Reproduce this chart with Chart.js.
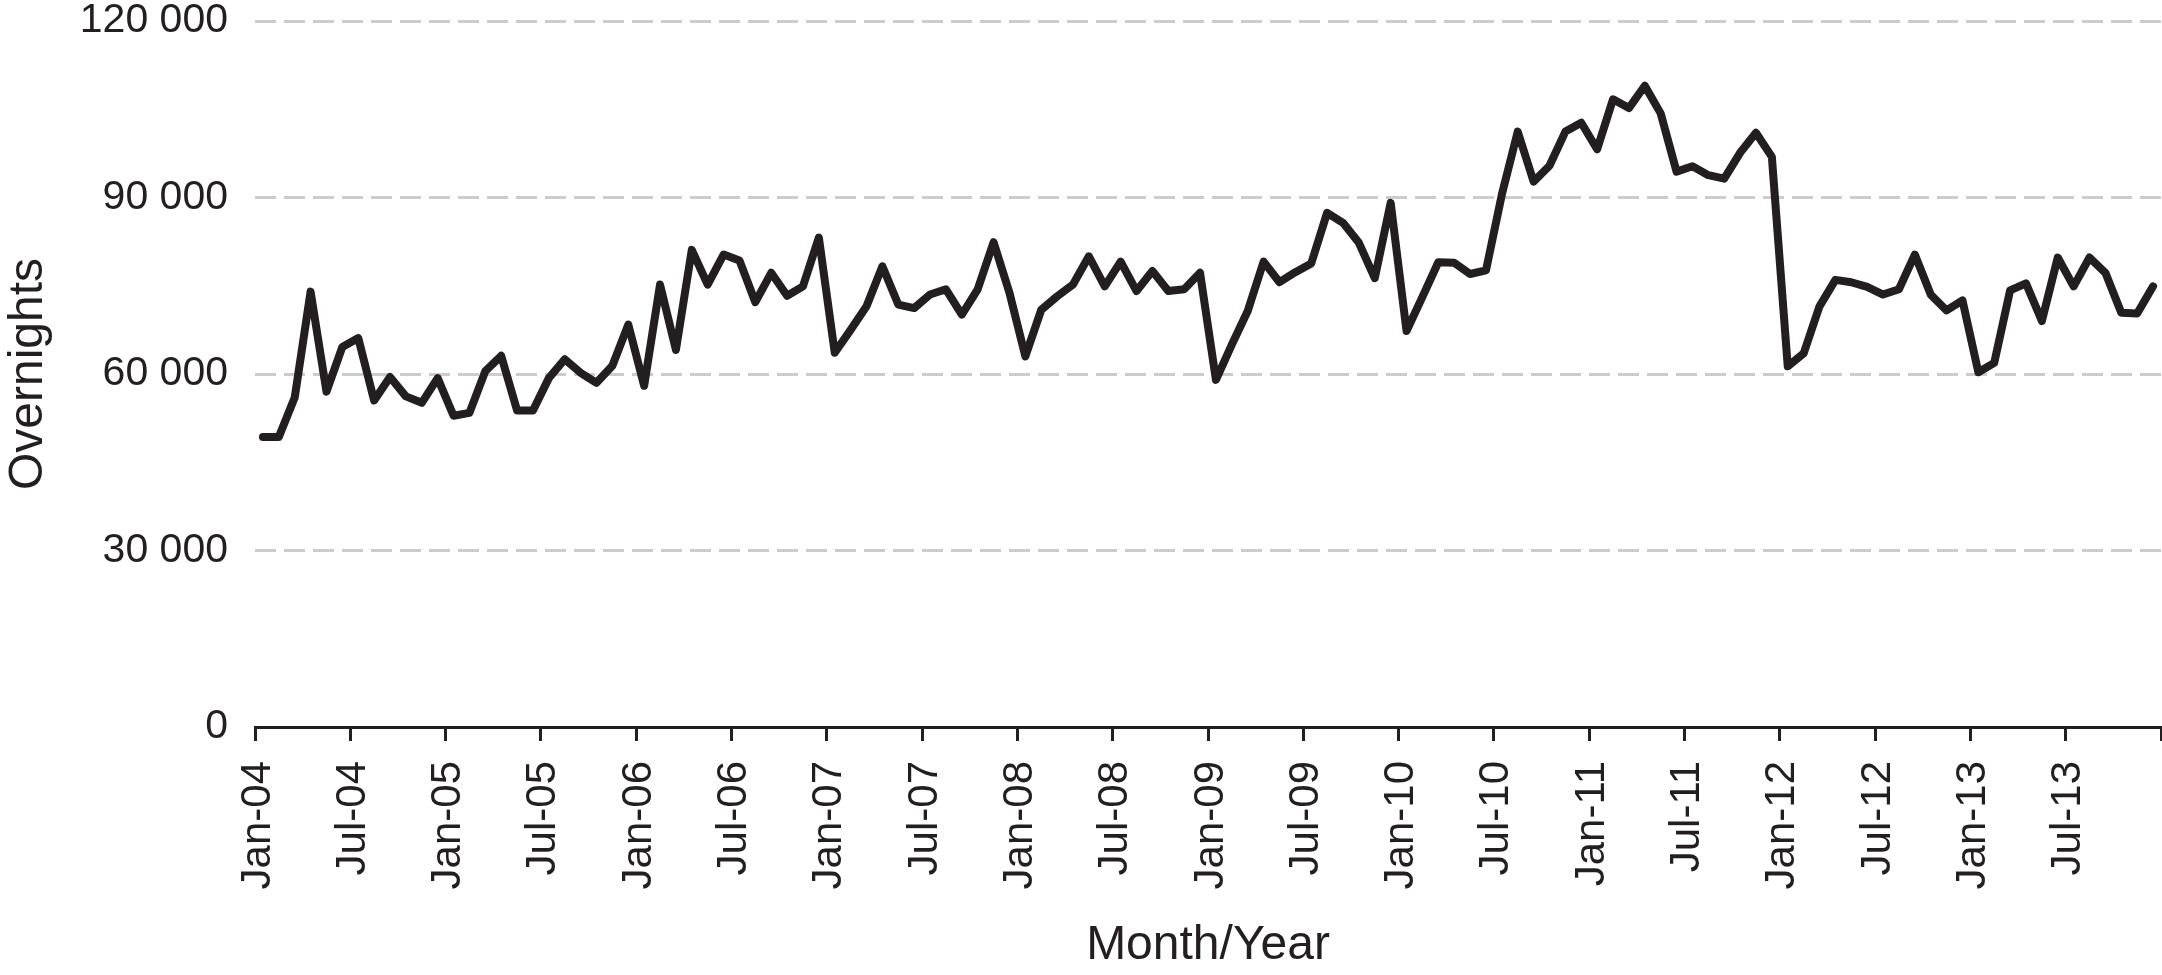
<!DOCTYPE html>
<html>
<head>
<meta charset="utf-8">
<script src="https://cdn.jsdelivr.net/npm/chart.js@4/dist/chart.umd.min.js"></script>
<style>
  html, body { margin: 0; padding: 0; background: #ffffff; }
  #wrap { width: 2162px; height: 975px; }
</style>
</head>
<body>
<div id="wrap"><canvas id="c" width="2162" height="975"></canvas></div>
<script>
// ---- data ----
const years = ['04','05','06','07','08','09','10','11','12','13'];
const monthNames = ['Jan','Feb','Mar','Apr','May','Jun','Jul','Aug','Sep','Oct','Nov','Dec'];
const overnights = [
  49300, 49300, 56000, 74000, 57000, 64600, 66100, 55500, 59500, 56200, 55100, 59300,
  52900, 53400, 60500, 63100, 53800, 53800, 59300, 62500, 60200, 58500, 61400, 68400,
  58000, 75200, 64100, 81100, 75200, 80300, 79300, 72200, 77200, 73300, 74900, 83200,
  63600, 67500, 71500, 78300, 71800, 71200, 73500, 74400, 70100, 74400, 82400, 73800,
  63000, 70900, 73200, 75200, 80000, 74900, 79100, 74100, 77500, 74100, 74400, 77200,
  59000, 65000, 70700, 79100, 75600, 77300, 78800, 87400, 85700, 82300, 76300, 89100,
  67300, 73100, 79000, 78900, 77000, 77600, 90500, 101200, 92700, 95400, 101200, 102700,
  98200, 106700, 105200, 109000, 104300, 94400, 95300, 93800, 93200, 97600, 101000, 96900,
  61300, 63500, 71500, 76000, 75600, 74800, 73500, 74400, 80300, 73500, 70800, 72500,
  60300, 61900, 74200, 75400, 69000, 79800, 74900, 79800, 77200, 70400, 70300, 74900
];
const xTickLabels = ['Jan-04','Jul-04','Jan-05','Jul-05','Jan-06','Jul-06','Jan-07','Jul-07',
  'Jan-08','Jul-08','Jan-09','Jul-09','Jan-10','Jul-10','Jan-11','Jul-11','Jan-12','Jul-12',
  'Jan-13','Jul-13'];
const yTickLabels = ['0','30 000','60 000','90 000','120 000'];
const yStep = 30000, yMax = 120000;

// categories (one per month)
const categories = [];
years.forEach(y => monthNames.forEach(m => categories.push(m + '-' + y)));

// points sit in the middle of each month interval
const points = overnights.map((v, i) => ({ x: i + 0.5, y: v, label: categories[i] }));

const ink = '#231f20';
const fontFam = '"Liberation Sans", Arial, Helvetica, sans-serif';

function zeroPad(scale) {
  scale.paddingLeft = 0; scale.paddingRight = 0;
  scale.paddingTop = 0; scale.paddingBottom = 0;
}

new Chart(document.getElementById('c'), {
  type: 'line',
  data: {
    datasets: [{
      label: 'Overnights',
      data: points,
      borderColor: ink,
      borderWidth: 8,
      pointRadius: 0,
      tension: 0,
      fill: false,
      borderJoinStyle: 'round',
      borderCapStyle: 'round'
    }]
  },
  options: {
    responsive: false,
    animation: false,
    events: [],
    layout: { padding: { top: 21, right: 1, left: 0, bottom: 0 } },
    plugins: { legend: { display: false }, tooltip: { enabled: false } },
    scales: {
      x: {
        type: 'linear',
        min: 0,
        max: categories.length,
        afterFit: (s) => { s.height = 248; zeroPad(s); },
        border: { display: true, color: ink, width: 3 },
        grid: { drawOnChartArea: false, drawTicks: true, tickLength: 14, color: ink, lineWidth: 3 },
        ticks: {
          stepSize: 6,
          autoSkip: false,
          minRotation: 90,
          maxRotation: 90,
          padding: 20,
          labelOffset: 3,
          color: ink,
          font: { family: fontFam, size: 42 },
          callback: (v) => xTickLabels[Math.round(v / 6)] || ''
        },
        title: {
          display: true,
          text: 'Month/Year',
          color: ink,
          font: { family: fontFam, size: 48 },
          padding: { top: 0, bottom: 0 }
        }
      },
      y: {
        min: 0,
        max: yMax,
        afterFit: (s) => { s.width = 255; zeroPad(s); },
        border: { display: false, dash: [21, 8] },
        grid: {
          drawTicks: false,
          lineWidth: 3,
          color: (ctx) => (ctx.tick && ctx.tick.value === 0) ? 'rgba(0,0,0,0)' : '#cccccc'
        },
        ticks: {
          stepSize: yStep,
          padding: 27,
          color: ink,
          font: { family: fontFam, size: 41 },
          callback: (v) => yTickLabels[Math.round(v / yStep)]
        },
        title: {
          display: true,
          text: 'Overnights',
          color: ink,
          font: { family: fontFam, size: 48 },
          padding: { top: 0, bottom: 0 }
        }
      }
    }
  }
});
</script>
</body>
</html>
